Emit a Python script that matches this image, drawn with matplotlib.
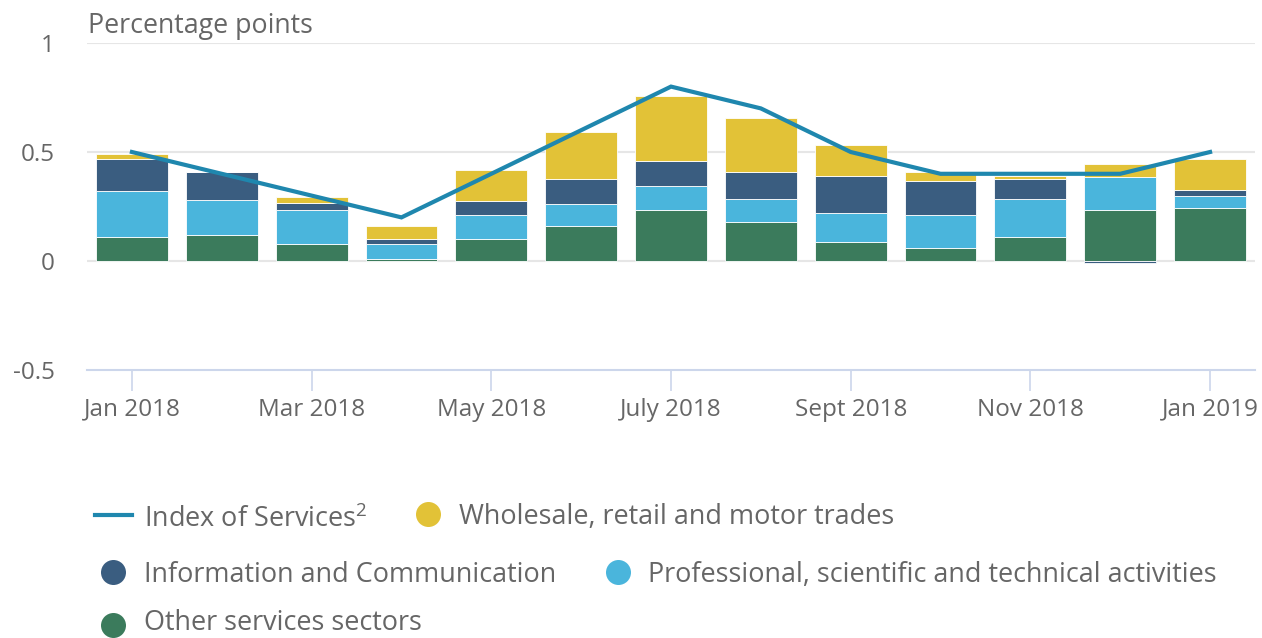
import matplotlib
matplotlib.use("Agg")
import matplotlib.pyplot as plt
import numpy as np

plt.rcParams['font.family'] = ['Open Sans', 'DejaVu Sans']
plt.rcParams['mathtext.fontset'] = 'custom'
plt.rcParams['mathtext.rm'] = 'Open Sans'
plt.rcParams['mathtext.it'] = 'Open Sans'

months = ["Jan 2018", "Feb 2018", "Mar 2018", "Apr 2018", "May 2018", "Jun 2018",
          "July 2018", "Aug 2018", "Sept 2018", "Oct 2018", "Nov 2018", "Dec 2018", "Jan 2019"]
other = [0.109, 0.118, 0.079, 0.007, 0.099, 0.161, 0.232, 0.181, 0.088, 0.059, 0.108, 0.232, 0.242]
professional = [0.214, 0.164, 0.154, 0.070, 0.114, 0.101, 0.113, 0.103, 0.134, 0.154, 0.176, 0.155, 0.054]
information = [0.146, 0.125, 0.031, 0.022, 0.060, 0.115, 0.115, 0.123, 0.166, 0.153, 0.092, -0.010, 0.029]
wholesale = [0.020, 0.000, 0.030, 0.062, 0.145, 0.216, 0.298, 0.247, 0.142, 0.040, 0.013, 0.060, 0.144]
index_services = [0.5, 0.4, 0.3, 0.2, 0.4, 0.6, 0.8, 0.7, 0.5, 0.4, 0.4, 0.4, 0.5]
tick_labels = ["Jan 2018", "Mar 2018", "May 2018", "July 2018", "Sept 2018", "Nov 2018", "Jan 2019"]

c_other = "#3b7b5c"
c_prof = "#4ab5dc"
c_info = "#3a5d80"
c_whole = "#e2c237"
c_line = "#1f87ae"
txt = "#666666"

W, H = 1262, 638
fig = plt.figure(figsize=(W / 100, H / 100), dpi=100)
ax = fig.add_axes([87 / W, 1 - 370 / H, (1255 - 87) / W, (370 - 43) / H])

x = np.arange(len(months))
other_a = np.array(other)
prof_a = np.array(professional)
info_a = np.array(information)
whole_a = np.array(wholesale)

pos_base = np.zeros(len(x))
neg_base = np.zeros(len(x))
for vals, col in [(other_a, c_other), (prof_a, c_prof), (info_a, c_info), (whole_a, c_whole)]:
    bottoms = np.where(vals >= 0, pos_base, neg_base)
    ax.bar(x, vals, width=0.8, bottom=bottoms, color=col, edgecolor='white', linewidth=0.6, zorder=2)
    pos_base = pos_base + np.where(vals >= 0, vals, 0)
    neg_base = neg_base + np.where(vals < 0, vals, 0)

ax.plot(x, index_services, color=c_line, linewidth=3.0, zorder=3, solid_joinstyle='miter')

ax.set_xlim(-0.5, len(months) - 0.5)
ax.set_ylim(-0.5, 1)
ax.set_yticks([-0.5, 0, 0.5, 1])
ax.set_yticklabels(["-0.5", "0", "0.5", "1"])
for yv in [0, 0.5, 1]:
    ax.axhline(yv, color="#e6e6e6", linewidth=1.5, zorder=1)

tick_idx = [months.index(t) for t in tick_labels]
ax.set_xticks(tick_idx)
ax.set_xticklabels(tick_labels)

for s in ['top', 'right', 'left']:
    ax.spines[s].set_visible(False)
ax.spines['bottom'].set_color("#ccd6eb")
ax.spines['bottom'].set_linewidth(1.5)
ax.tick_params(axis='x', colors="#ccd6eb", length=15, width=1.2, labelcolor=txt, labelsize=17.5, pad=5)
ax.tick_params(axis='y', length=0, labelcolor=txt, labelsize=17.5, pad=23)

fig.text(88 / W, 1 - 26 / H, "Percentage points", color=txt, fontsize=19.3, va='center', ha='left')

# legend in pixel coordinates
lax = fig.add_axes([0, 0, 1, 1], facecolor='none')
lax.set_xlim(0, W)
lax.set_ylim(H, 0)
lax.axis('off')
lfs = 19.45
lax.plot([95, 132], [515, 515], color=c_line, linewidth=3)
lax.text(144, 520, "Index of Services$^{2}$", color=txt, fontsize=lfs, va='center', ha='left')
entries = [
    (428, 514, c_whole, 459, 517, "Wholesale, retail and motor trades"),
    (113, 572, c_info, 144, 575, "Information and Communication"),
    (618, 572, c_prof, 648, 575, "Professional, scientific and technical activities"),
    (113, 625, c_other, 144, 623, "Other services sectors"),
]
for mx, my, col, tx, ty, label in entries:
    lax.plot([mx], [my], marker='o', markersize=18, color=col, markeredgewidth=0)
    lax.text(tx, ty, label, color=txt, fontsize=lfs, va='center', ha='left')

fig.savefig("out.png", dpi=100)
